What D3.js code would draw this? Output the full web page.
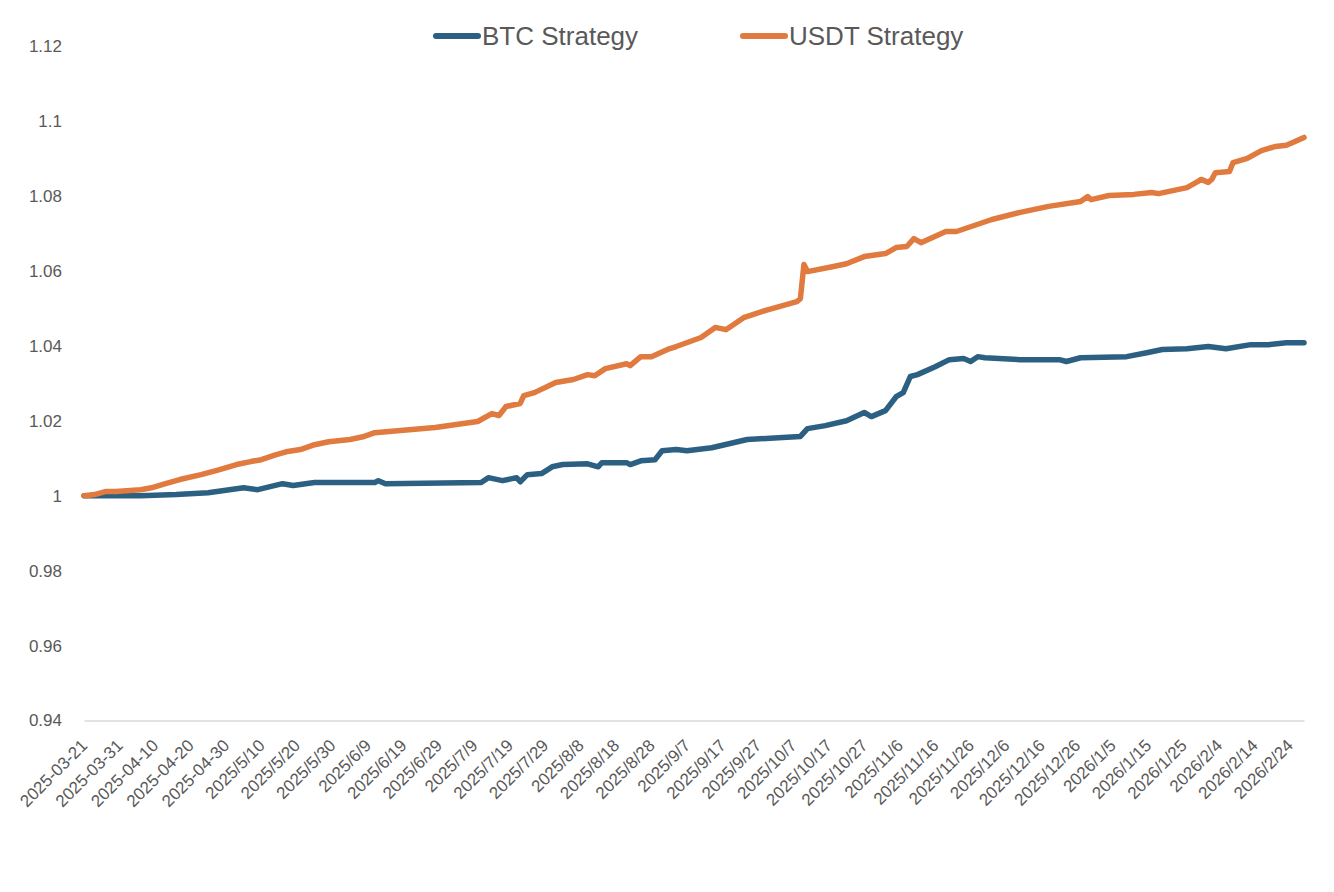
<!DOCTYPE html>
<html>
<head>
<meta charset="utf-8">
<script src="https://cdn.jsdelivr.net/npm/d3@7"></script>
<style>
  body { margin: 0; background: #fff; }
  #chart text { fill: #595959; }
</style>
</head>
<body>
<div id="chart"></div>
<script>
// series: [date, value]
var btcSeries = [
  ["2025-03-21", 1.0000], ["2025-04-06", 1.0000], ["2025-04-16", 1.0003], ["2025-04-25", 1.0008],
  ["2025-05-05", 1.0021], ["2025-05-09", 1.0016], ["2025-05-16", 1.0032], ["2025-05-19", 1.0027],
  ["2025-05-25", 1.0035], ["2025-06-11", 1.0035], ["2025-06-12", 1.0040], ["2025-06-14", 1.0032],
  ["2025-07-11", 1.0035], ["2025-07-13", 1.0048], ["2025-07-17", 1.0040], ["2025-07-21", 1.0048],
  ["2025-07-22", 1.0037], ["2025-07-24", 1.0056], ["2025-07-28", 1.0059], ["2025-07-31", 1.0077],
  ["2025-08-03", 1.0083], ["2025-08-10", 1.0085], ["2025-08-13", 1.0077], ["2025-08-14", 1.0088],
  ["2025-08-21", 1.0088], ["2025-08-22", 1.0083], ["2025-08-25", 1.0093], ["2025-08-29", 1.0096],
  ["2025-08-31", 1.0120], ["2025-09-04", 1.0123], ["2025-09-07", 1.0120], ["2025-09-14", 1.0128],
  ["2025-09-24", 1.0150], ["2025-10-04", 1.0155], ["2025-10-09", 1.0158], ["2025-10-11", 1.0179],
  ["2025-10-16", 1.0187], ["2025-10-22", 1.0200], ["2025-10-27", 1.0222], ["2025-10-29", 1.0211],
  ["2025-11-02", 1.0227], ["2025-11-05", 1.0264], ["2025-11-07", 1.0275], ["2025-11-09", 1.0318],
  ["2025-11-11", 1.0323], ["2025-11-16", 1.0344], ["2025-11-20", 1.0363], ["2025-11-24", 1.0366],
  ["2025-11-26", 1.0358], ["2025-11-28", 1.0371], ["2025-11-30", 1.0368], ["2025-12-10", 1.0363],
  ["2025-12-21", 1.0363], ["2025-12-23", 1.0358], ["2025-12-27", 1.0368], ["2026-01-09", 1.0371],
  ["2026-01-15", 1.0382], ["2026-01-19", 1.0390], ["2026-01-26", 1.0392], ["2026-02-01", 1.0398],
  ["2026-02-06", 1.0392], ["2026-02-13", 1.0403], ["2026-02-18", 1.0403], ["2026-02-23", 1.0408],
  ["2026-02-28", 1.0408]
];

var usdtSeries = [
  ["2025-03-21", 1.0000], ["2025-03-24", 1.0003], ["2025-03-27", 1.0011], ["2025-03-30", 1.0011],
  ["2025-04-06", 1.0016], ["2025-04-09", 1.0021], ["2025-04-13", 1.0032], ["2025-04-17", 1.0043],
  ["2025-04-23", 1.0056], ["2025-04-28", 1.0069], ["2025-05-03", 1.0083], ["2025-05-07", 1.0091],
  ["2025-05-10", 1.0096], ["2025-05-14", 1.0109], ["2025-05-17", 1.0117], ["2025-05-21", 1.0123],
  ["2025-05-25", 1.0136], ["2025-05-29", 1.0144], ["2025-06-04", 1.0150], ["2025-06-08", 1.0158],
  ["2025-06-11", 1.0168], ["2025-06-15", 1.0171], ["2025-06-28", 1.0182], ["2025-07-10", 1.0198],
  ["2025-07-14", 1.0219], ["2025-07-16", 1.0214], ["2025-07-18", 1.0238], ["2025-07-22", 1.0246],
  ["2025-07-23", 1.0267], ["2025-07-26", 1.0275], ["2025-08-01", 1.0302], ["2025-08-06", 1.0310],
  ["2025-08-10", 1.0323], ["2025-08-12", 1.0320], ["2025-08-15", 1.0339], ["2025-08-21", 1.0352],
  ["2025-08-22", 1.0347], ["2025-08-25", 1.0371], ["2025-08-28", 1.0371], ["2025-09-02", 1.0392],
  ["2025-09-04", 1.0398], ["2025-09-11", 1.0422], ["2025-09-15", 1.0449], ["2025-09-18", 1.0443],
  ["2025-09-23", 1.0475], ["2025-09-29", 1.0494], ["2025-10-05", 1.0510], ["2025-10-08", 1.0518],
  ["2025-10-09", 1.0526], ["2025-10-10", 1.0617], ["2025-10-11", 1.0598], ["2025-10-18", 1.0611],
  ["2025-10-22", 1.0619], ["2025-10-27", 1.0638], ["2025-11-02", 1.0646], ["2025-11-05", 1.0662],
  ["2025-11-08", 1.0665], ["2025-11-10", 1.0686], ["2025-11-12", 1.0675], ["2025-11-19", 1.0705],
  ["2025-11-22", 1.0705], ["2025-11-27", 1.0721], ["2025-12-02", 1.0737], ["2025-12-10", 1.0756],
  ["2025-12-18", 1.0772], ["2025-12-27", 1.0785], ["2025-12-29", 1.0798], ["2025-12-30", 1.0790],
  ["2026-01-04", 1.0801], ["2026-01-11", 1.0804], ["2026-01-16", 1.0809], ["2026-01-18", 1.0806],
  ["2026-01-26", 1.0822], ["2026-01-29", 1.0838], ["2026-01-30", 1.0844], ["2026-02-01", 1.0836],
  ["2026-02-02", 1.0844], ["2026-02-03", 1.0862], ["2026-02-07", 1.0865], ["2026-02-08", 1.0889],
  ["2026-02-12", 1.0900], ["2026-02-16", 1.0921], ["2026-02-20", 1.0932], ["2026-02-23", 1.0935],
  ["2026-02-25", 1.0943], ["2026-02-28", 1.0956]
];

var seriesNames = ["BTC Strategy", "USDT Strategy"];
var seriesColors = ["#2c6083", "#e07a3e"];

var xTickLabels = [
  "2025-03-21", "2025-03-31", "2025-04-10", "2025-04-20", "2025-04-30", "2025/5/10", "2025/5/20",
  "2025/5/30", "2025/6/9", "2025/6/19", "2025/6/29", "2025/7/9", "2025/7/19", "2025/7/29",
  "2025/8/8", "2025/8/18", "2025/8/28", "2025/9/7", "2025/9/17", "2025/9/27", "2025/10/7",
  "2025/10/17", "2025/10/27", "2025/11/6", "2025/11/16", "2025/11/26", "2025/12/6", "2025/12/16",
  "2025/12/26", "2026/1/5", "2026/1/15", "2026/1/25", "2026/2/4", "2026/2/14", "2026/2/24"
];
var yTicks = [0.94, 0.96, 0.98, 1, 1.02, 1.04, 1.06, 1.08, 1.1, 1.12];
var yTickLabels = ["0.94", "0.96", "0.98", "1", "1.02", "1.04", "1.06", "1.08", "1.1", "1.12"];
var xStart = "2025-03-21", xEnd = "2026-02-28";

function drawChart() {
    var W = 1334, H = 892;
    var mLeft = 84, mRight = 1304, mTop = 46, mBottom = 720.5;

    var parseDash = d3.utcParse("%Y-%m-%d");
    var parseSlash = d3.utcParse("%Y/%m/%d");
    var parseDate = s => parseDash(s) || parseSlash(s);

    var svg = d3.select("#chart").append("svg")
        .attr("width", W)
        .attr("height", H)
        .style("font-family", "'Liberation Sans', Arial, sans-serif");

    var x = d3.scaleUtc().domain([parseDate(xStart), parseDate(xEnd)]).range([mLeft, mRight]);
    var y = d3.scaleLinear().domain([0.94, 1.12]).range([mBottom, mTop]);

    // y axis: labels only, no line
    var yAxis = svg.append("g")
        .attr("transform", "translate(" + mLeft + ",0)")
        .call(d3.axisLeft(y).tickValues(yTicks).tickSize(0).tickPadding(22)
            .tickFormat((d, i) => yTickLabels[i]));
    yAxis.select(".domain").remove();
    yAxis.selectAll("text").style("font-size", "17px");

    // x axis
    var xAxis = svg.append("g")
        .attr("transform", "translate(0," + mBottom + ")")
        .call(d3.axisBottom(x).tickValues(xTickLabels.map(parseDate)).tickSize(0).tickSizeOuter(0)
            .tickFormat((d, i) => xTickLabels[i]));
    xAxis.select(".domain").attr("stroke", "#d9d9d9").attr("stroke-width", 1.5);
    xAxis.selectAll("text")
        .style("font-size", "17px")
        .attr("text-anchor", "end")
        .attr("y", 0)
        .attr("dy", 0)
        .attr("transform", "translate(4,26) rotate(-45)");

    var line = d3.line()
        .x(d => x(parseDate(d[0])))
        .y(d => y(d[1]));

    [btcSeries, usdtSeries].forEach((s, i) => {
        svg.append("path")
            .datum(s)
            .attr("fill", "none")
            .attr("stroke", seriesColors[i])
            .attr("stroke-width", 5.5)
            .attr("stroke-linejoin", "round")
            .attr("stroke-linecap", "round")
            .attr("d", line);
    });

    // legend
    var legendX = [436, 743];
    var legend = svg.append("g");
    seriesNames.forEach((name, i) => {
        legend.append("line")
            .attr("x1", legendX[i]).attr("x2", legendX[i] + 42)
            .attr("y1", 36).attr("y2", 36)
            .attr("stroke", seriesColors[i])
            .attr("stroke-width", 6)
            .attr("stroke-linecap", "round");
        legend.append("text")
            .attr("x", legendX[i] + 46)
            .attr("y", 45)
            .style("font-size", "26px")
            .text(name);
    });
}

drawChart();
</script>
</body>
</html>
